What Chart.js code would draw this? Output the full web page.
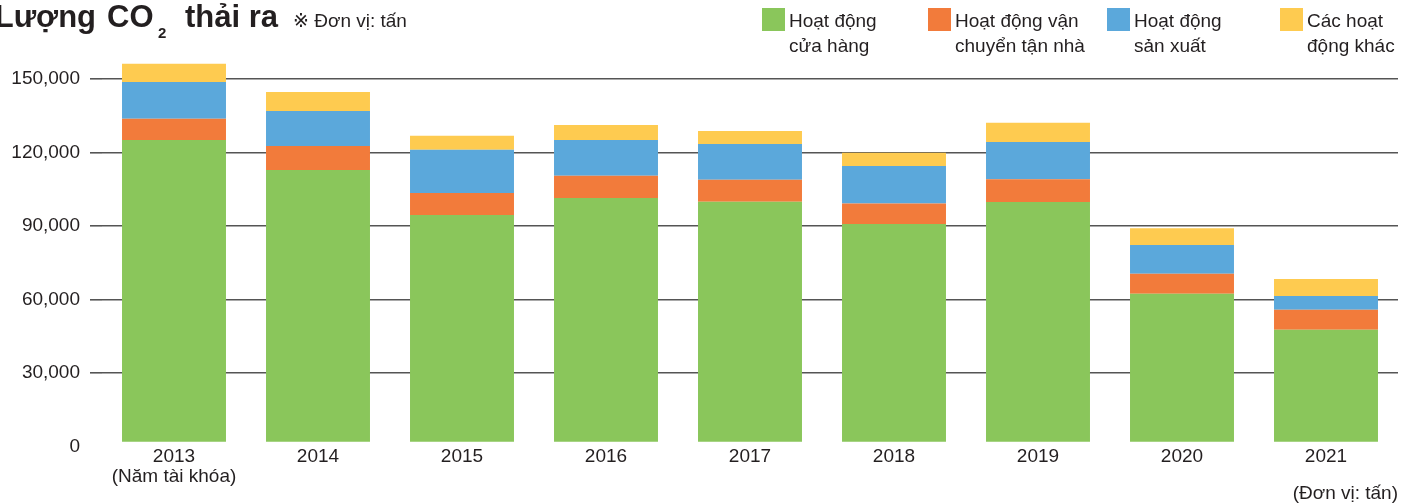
<!DOCTYPE html>
<html>
<head>
<meta charset="utf-8">
<script src="https://cdn.jsdelivr.net/npm/chart.js@4"></script>
<style>
body { margin: 0; background: #fff; }
</style>
</head>
<body>
<canvas id="co2" width="1412" height="504"></canvas>
<script>
// fiscal years
var years = ['2013', '2014', '2015', '2016', '2017', '2018', '2019', '2020', '2021'];
var yearNote = '(Năm tài khóa)';

// CO2 emissions, tonnes
var storeOps = [125100, 112800, 94500, 101400, 99900, 90800, 99800, 62300, 47600];
var deliveryOps = [8700, 9800, 9000, 9100, 9000, 8400, 9300, 8200, 8200];
var productionOps = [15000, 14300, 17600, 14600, 14600, 15300, 15200, 11700, 5600];
var otherOps = [7400, 7800, 5700, 6100, 5300, 5400, 7800, 6900, 6900];

var seriesNames = [
    ['Hoạt động', 'cửa hàng'],
    ['Hoạt động vận', 'chuyển tận nhà'],
    ['Hoạt động', 'sản xuất'],
    ['Các hoạt', 'động khác']
];
var seriesColors = ['#8ac65b', '#f27b3b', '#5ba8db', '#fecb50'];
var yTicks = [0, 30000, 60000, 90000, 120000, 150000];

var fam = "'Liberation Sans', Arial, 'DejaVu Sans', sans-serif";
var ink = '#231f20';
Chart.defaults.font.family = fam;

var xLabels = years.map(function (y, i) {
    return i === 0 ? [y, yearNote] : y;
});

// title, legend and unit note drawn on top of the chart
var legendX = [762, 928, 1107, 1280];
var textPlugin = {
    id: 'texts',
    afterDraw: function (chart) {
        var ctx = chart.ctx;
        ctx.save();
        ctx.fillStyle = ink;
        ctx.textBaseline = 'alphabetic';

        ctx.font = 'bold 31px ' + fam;
        ctx.textAlign = 'right';
        ctx.fillText('Lượng', 96, 27);
        ctx.textAlign = 'left';
        ctx.fillText('CO', 107, 27);
        ctx.font = 'bold 15px ' + fam;
        ctx.fillText('2', 158, 38);
        ctx.font = 'bold 31px ' + fam;
        ctx.fillText('thải ra', 185, 27);
        ctx.font = '19px ' + fam;
        ctx.fillText('※ Đơn vị: tấn', 293, 27);

        chart.data.datasets.forEach(function (ds, i) {
            var x = legendX[i];
            ctx.fillStyle = ds.backgroundColor;
            ctx.fillRect(x, 8, 23, 23);
            ctx.fillStyle = ink;
            ctx.fillText(seriesNames[i][0], x + 27, 27);
            ctx.fillText(seriesNames[i][1], x + 27, 52);
        });

        ctx.textAlign = 'right';
        ctx.fillText('(Đơn vị: tấn)', 1398, 499);
        ctx.restore();
    }
};

new Chart(document.getElementById('co2'), {
    type: 'bar',
    data: {
        labels: xLabels,
        datasets: [
            { label: seriesNames[0].join(' '), data: storeOps, backgroundColor: seriesColors[0], base: 1900 },
            { label: seriesNames[1].join(' '), data: deliveryOps, backgroundColor: seriesColors[1] },
            { label: seriesNames[2].join(' '), data: productionOps, backgroundColor: seriesColors[2] },
            { label: seriesNames[3].join(' '), data: otherOps, backgroundColor: seriesColors[3] }
        ]
    },
    options: {
        responsive: false,
        animation: false,
        layout: { padding: { left: 10, right: 14, top: 54.5, bottom: 17.7 } },
        datasets: { bar: { categoryPercentage: 1, barPercentage: 0.722, borderWidth: 0 } },
        plugins: { legend: { display: false }, tooltip: { enabled: false } },
        scales: {
            x: {
                stacked: true,
                grid: { display: false, drawTicks: false },
                border: { display: false },
                ticks: { padding: 0, color: ink, maxRotation: 0, autoSkip: false, font: { size: 19, lineHeight: 1.05 } }
            },
            y: {
                stacked: true,
                min: 0,
                max: 160000,
                border: { display: false },
                grid: {
                    lineWidth: 1.6,
                    tickLength: 12,
                    color: function (c) { return c.tick && c.tick.value === 0 ? 'rgba(0,0,0,0)' : '#555555'; }
                },
                ticks: {
                    padding: 10,
                    color: ink,
                    font: { size: 19 },
                    callback: function (v) { return v.toLocaleString('en-US'); }
                },
                afterBuildTicks: function (axis) {
                    axis.ticks = yTicks.map(function (v) { return { value: v }; });
                },
                afterFit: function (axis) { axis.width = 92; }
            }
        }
    },
    plugins: [textPlugin]
});
</script>
</body>
</html>
